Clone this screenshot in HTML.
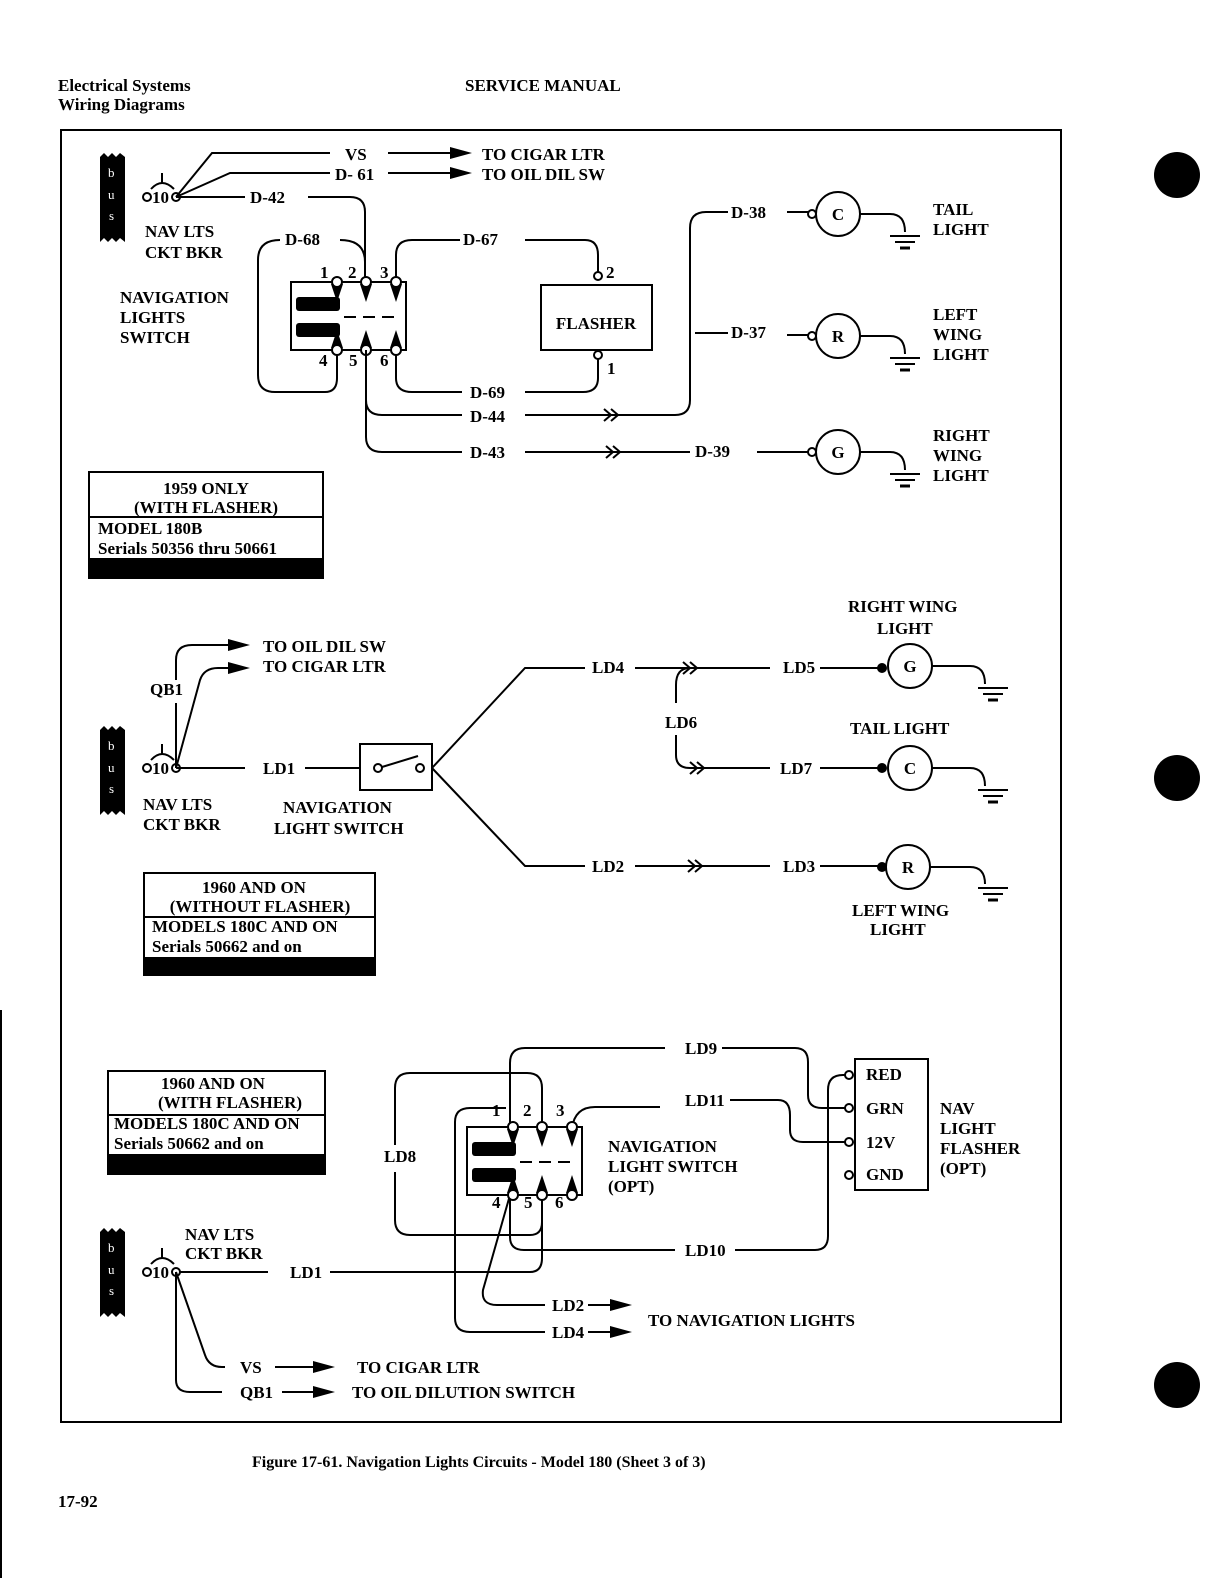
<!DOCTYPE html>
<html><head><meta charset="utf-8"><style>
html,body{margin:0;padding:0;background:#fff;}
svg{display:block;}
text{font-family:"Liberation Serif",serif;font-weight:bold;font-size:17px;fill:#000;}
.w{fill:none;stroke:#000;stroke-width:2;}
.t{fill:#fff;stroke:#000;stroke-width:2;}
</style></head><body>
<svg width="1224" height="1578" viewBox="0 0 1224 1578" xmlns="http://www.w3.org/2000/svg">
<defs>
<g id="bus">
<path d="M0,0 L4,-4 L8,0 L12,-4 L16,0 L20,-4 L25,0 L25,85 L20,81 L16,85 L12,81 L8,85 L4,81 L0,85 Z" fill="#000"/>
<text x="8" y="20" style="fill:#fff;font-size:13px;font-weight:normal">b</text>
<text x="8" y="42" style="fill:#fff;font-size:13px;font-weight:normal">u</text>
<text x="9" y="63" style="fill:#fff;font-size:13px;font-weight:normal">s</text>
</g>
<g id="cb">
<circle cx="0" cy="0" r="4" class="t"/>
<text x="5" y="6">10</text>
<path d="M4,-8 Q15,-20 27,-8" class="w"/>
<line x1="15" y1="-14" x2="15" y2="-24" class="w"/>
<circle cx="29" cy="0" r="4" class="t"/>
</g>
<g id="gnd">
<line x1="-15" y1="0" x2="15" y2="0" stroke="#000" stroke-width="2"/>
<line x1="-10" y1="6" x2="10" y2="6" stroke="#000" stroke-width="2"/>
<line x1="-5" y1="12" x2="5" y2="12" stroke="#000" stroke-width="3"/>
</g>
<g id="chev"><path d="M0,-6 L7,0 L0,6 M7,-6 L14,0 L7,6" class="w"/></g>
<g id="arr"><path d="M0,-6 L22,0 L0,6 Z" fill="#000"/></g>
<g id="sw">
<rect x="0" y="0" width="115" height="68" class="w" stroke-width="4"/>
<rect x="5" y="15" width="44" height="14" fill="#000" rx="3"/>
<rect x="5" y="41" width="44" height="14" fill="#000" rx="3"/>
<path d="M53,35 H110" class="w" stroke-dasharray="12,7"/>
<path d="M40,2 L52,2 L46,20 Z M69,2 L81,2 L75,20 Z M99,2 L111,2 L105,20 Z" fill="#000"/>
<path d="M40,66 L52,66 L46,48 Z M69,66 L81,66 L75,48 Z M99,66 L111,66 L105,48 Z" fill="#000"/>
<circle cx="46" cy="0" r="5" class="t"/><circle cx="75" cy="0" r="5" class="t"/><circle cx="105" cy="0" r="5" class="t"/>
<circle cx="46" cy="68" r="5" class="t"/><circle cx="75" cy="68" r="5" class="t"/><circle cx="105" cy="68" r="5" class="t"/>
</g>
</defs>

<text x="58" y="91">Electrical Systems</text>
<text x="58" y="110">Wiring Diagrams</text>
<text x="465" y="91">SERVICE MANUAL</text>
<rect x="61" y="130" width="1000" height="1292" class="w" stroke-width="3"/>
<circle cx="1177" cy="175" r="23" fill="#000"/>
<circle cx="1177" cy="778" r="23" fill="#000"/>
<circle cx="1177" cy="1385" r="23" fill="#000"/>
<line x1="1" y1="1010" x2="1" y2="1578" stroke="#000" stroke-width="2"/>

<!-- Section 1 -->
<use href="#bus" x="100" y="157"/>
<use href="#cb" x="147" y="197"/>
<path d="M176,197 L212,153 H330 M176,197 L230,173 H330 M176,197 H245 M308,197 H350 Q365,197 365,212 V282" class="w"/>
<text x="345" y="160">VS</text><text x="335" y="180">D- 61</text><text x="250" y="203">D-42</text>
<line x1="388" y1="153" x2="450" y2="153" class="w"/><use href="#arr" x="450" y="153"/>
<line x1="388" y1="173" x2="450" y2="173" class="w"/><use href="#arr" x="450" y="173"/>
<text x="482" y="160">TO CIGAR LTR</text><text x="482" y="180">TO OIL DIL SW</text>
<text x="145" y="237">NAV LTS</text><text x="145" y="258">CKT BKR</text>
<text x="120" y="303">NAVIGATION</text><text x="120" y="323">LIGHTS</text><text x="120" y="343">SWITCH</text>
<text x="285" y="245">D-68</text>
<path d="M340,240 Q365,240 365,262 M280,240 Q258,240 258,260 V375 Q258,392 275,392 H325 Q337,392 337,378 V350" class="w"/>
<path d="M396,282 V255 Q396,240 412,240 H460 M525,240 H585 Q598,240 598,255 V272" class="w"/>
<text x="463" y="245">D-67</text>
<circle cx="598" cy="276" r="4" class="t"/><text x="606" y="278">2</text>
<rect x="541" y="285" width="111" height="65" class="w" stroke-width="3"/>
<text x="596" y="329" text-anchor="middle">FLASHER</text>
<circle cx="598" cy="355" r="4" class="t"/><text x="607" y="374">1</text>
<path d="M598,359 V378 Q598,392 583,392 H525 M396,350 V378 Q396,392 412,392 H462" class="w"/>
<text x="470" y="398">D-69</text>
<use href="#sw" x="291" y="282"/>
<text x="320" y="278">1</text><text x="348" y="278">2</text><text x="380" y="278">3</text>
<text x="319" y="366">4</text><text x="349" y="366">5</text><text x="380" y="366">6</text>
<path d="M366,350 V400 Q366,415 382,415 H462 M525,415 H675 Q690,415 690,400 V228 Q690,212 706,212 H728" class="w"/>
<use href="#chev" x="604" y="415"/>
<text x="470" y="422">D-44</text><text x="731" y="218">D-38</text>
<path d="M366,400 V437 Q366,452 382,452 H462 M525,452 H690 M757,452 H816" class="w"/>
<use href="#chev" x="606" y="452"/>
<text x="470" y="458">D-43</text><text x="695" y="457">D-39</text>
<path d="M695,333 H728 M787,335 H816 M787,212 H816" class="w"/>
<text x="731" y="338">D-37</text>
<g>
<circle cx="812" cy="214" r="4" class="t"/><circle cx="838" cy="214" r="22" class="t"/><text x="838" y="220" text-anchor="middle">C</text>
<path d="M860,214 H890 Q905,214 905,232" class="w"/><use href="#gnd" x="905" y="236"/>
<circle cx="812" cy="336" r="4" class="t"/><circle cx="838" cy="336" r="22" class="t"/><text x="838" y="342" text-anchor="middle">R</text>
<path d="M860,336 H890 Q905,336 905,354" class="w"/><use href="#gnd" x="905" y="358"/>
<circle cx="812" cy="452" r="4" class="t"/><circle cx="838" cy="452" r="22" class="t"/><text x="838" y="458" text-anchor="middle">G</text>
<path d="M860,452 H890 Q905,452 905,470" class="w"/><use href="#gnd" x="905" y="474"/>
</g>
<text x="933" y="215">TAIL</text><text x="933" y="235">LIGHT</text>
<text x="933" y="320">LEFT</text><text x="933" y="340">WING</text><text x="933" y="360">LIGHT</text>
<text x="933" y="441">RIGHT</text><text x="933" y="461">WING</text><text x="933" y="481">LIGHT</text>
<rect x="89" y="472" width="234" height="106" class="w"/>
<line x1="89" y1="517" x2="323" y2="517" class="w"/>
<rect x="89" y="558" width="234" height="20" fill="#000"/>
<text x="206" y="494" text-anchor="middle">1959 ONLY</text><text x="206" y="513" text-anchor="middle">(WITH FLASHER)</text>
<text x="98" y="534">MODEL 180B</text><text x="98" y="554">Serials 50356 thru 50661</text>

<!-- Section 2 -->
<use href="#bus" x="100" y="730"/>
<use href="#cb" x="147" y="768"/>
<path d="M176,768 V703 M176,680 V660 Q176,645 192,645 H230 M176,768 L200,680 Q204,668 218,668 H230 M176,768 H245 M305,768 H360" class="w"/>
<use href="#arr" x="228" y="645"/><use href="#arr" x="228" y="668"/>
<text x="263" y="652">TO OIL DIL SW</text><text x="263" y="672">TO CIGAR LTR</text>
<text x="150" y="695">QB1</text><text x="263" y="774">LD1</text>
<rect x="360" y="744" width="72" height="46" class="w" stroke-width="3"/>
<circle cx="378" cy="768" r="4" class="t"/><circle cx="420" cy="768" r="4" class="t"/>
<line x1="382" y1="767" x2="418" y2="756" class="w"/>
<path d="M432,768 L525,668 H585 M635,668 H770 M820,668 H880 M432,768 L525,866 H585 M635,866 H770 M820,866 H880 M690,668 Q676,668 676,685 V703 M676,735 V755 Q676,768 690,768 H770 M820,768 H880" class="w"/>
<use href="#chev" x="683" y="668"/><use href="#chev" x="690" y="768"/><use href="#chev" x="688" y="866"/>
<text x="592" y="673">LD4</text><text x="783" y="673">LD5</text><text x="665" y="728">LD6</text>
<text x="780" y="774">LD7</text><text x="592" y="872">LD2</text><text x="783" y="872">LD3</text>
<circle cx="882" cy="668" r="5" fill="#000"/><circle cx="910" cy="666" r="22" class="t"/><text x="910" y="672" text-anchor="middle">G</text>
<path d="M932,666 H970 Q985,666 985,684" class="w"/><use href="#gnd" x="993" y="688"/>
<circle cx="882" cy="768" r="5" fill="#000"/><circle cx="910" cy="768" r="22" class="t"/><text x="910" y="774" text-anchor="middle">C</text>
<path d="M932,768 H970 Q985,768 985,786" class="w"/><use href="#gnd" x="993" y="790"/>
<circle cx="882" cy="867" r="5" fill="#000"/><circle cx="908" cy="867" r="22" class="t"/><text x="908" y="873" text-anchor="middle">R</text>
<path d="M930,867 H970 Q985,867 985,884" class="w"/><use href="#gnd" x="993" y="888"/>
<text x="848" y="612">RIGHT WING</text><text x="877" y="634">LIGHT</text>
<text x="850" y="734">TAIL LIGHT</text>
<text x="852" y="916">LEFT WING</text><text x="870" y="935">LIGHT</text>
<text x="143" y="810">NAV LTS</text><text x="143" y="830">CKT BKR</text>
<text x="283" y="813">NAVIGATION</text><text x="274" y="834">LIGHT SWITCH</text>
<rect x="144" y="873" width="231" height="102" class="w"/>
<line x1="144" y1="917" x2="375" y2="917" class="w"/>
<rect x="144" y="957" width="231" height="18" fill="#000"/>
<text x="254" y="893" text-anchor="middle">1960 AND ON</text><text x="260" y="912" text-anchor="middle">(WITHOUT FLASHER)</text>
<text x="152" y="932">MODELS 180C AND ON</text><text x="152" y="952">Serials 50662 and on</text>

<!-- Section 3 -->
<rect x="108" y="1071" width="217" height="103" class="w"/>
<line x1="108" y1="1115" x2="325" y2="1115" class="w"/>
<rect x="108" y="1154" width="217" height="20" fill="#000"/>
<text x="213" y="1089" text-anchor="middle">1960 AND ON</text><text x="230" y="1108" text-anchor="middle">(WITH FLASHER)</text>
<text x="114" y="1129">MODELS 180C AND ON</text><text x="114" y="1149">Serials 50662 and on</text>
<path d="M510,1128 V1063 Q510,1048 525,1048 H665 M722,1048 H795 Q808,1048 808,1062 V1095 Q808,1108 822,1108 H845" class="w"/>
<path d="M542,1128 V1088 Q542,1073 527,1073 H410 Q395,1073 395,1088 V1145 M395,1172 V1220 Q395,1235 410,1235 H530 Q542,1235 542,1222 V1195" class="w"/>
<path d="M572,1128 Q575,1107 595,1107 H660 M730,1100 H778 Q790,1100 790,1115 V1130 Q790,1142 803,1142 H845" class="w"/>
<path d="M510,1195 V1237 Q510,1250 524,1250 H675 M735,1250 H815 Q828,1250 828,1236 V1090 Q828,1075 843,1075 H845" class="w"/>
<path d="M176,1272 H268 M330,1272 H530 Q542,1272 542,1258 V1195" class="w"/>
<path d="M510,1195 L483,1290 Q481,1305 497,1305 H545" class="w"/>
<path d="M506,1108 H470 Q455,1108 455,1122 V1318 Q455,1332 470,1332 H545" class="w"/>
<line x1="588" y1="1305" x2="610" y2="1305" class="w"/><use href="#arr" x="610" y="1305"/>
<line x1="588" y1="1332" x2="610" y2="1332" class="w"/><use href="#arr" x="610" y="1332"/>
<text x="552" y="1311">LD2</text><text x="552" y="1338">LD4</text>
<text x="648" y="1326">TO NAVIGATION LIGHTS</text>
<use href="#sw" x="467" y="1127"/>
<text x="492" y="1116">1</text><text x="523" y="1116">2</text><text x="556" y="1116">3</text>
<text x="492" y="1208">4</text><text x="524" y="1208">5</text><text x="555" y="1208">6</text>
<text x="384" y="1162">LD8</text><text x="685" y="1054">LD9</text><text x="685" y="1106">LD11</text><text x="685" y="1256">LD10</text>
<text x="290" y="1278">LD1</text>
<text x="608" y="1152">NAVIGATION</text><text x="608" y="1172">LIGHT SWITCH</text><text x="608" y="1192">(OPT)</text>
<rect x="855" y="1059" width="73" height="131" class="w" stroke-width="3"/>
<circle cx="849" cy="1075" r="4" class="t"/><circle cx="849" cy="1108" r="4" class="t"/><circle cx="849" cy="1142" r="4" class="t"/><circle cx="849" cy="1175" r="4" class="t"/>
<text x="866" y="1080">RED</text><text x="866" y="1114">GRN</text><text x="866" y="1148">12V</text><text x="866" y="1180">GND</text>
<text x="940" y="1114">NAV</text><text x="940" y="1134">LIGHT</text><text x="940" y="1154">FLASHER</text><text x="940" y="1174">(OPT)</text>
<use href="#bus" x="100" y="1232"/>
<use href="#cb" x="147" y="1272"/>
<text x="185" y="1240">NAV LTS</text><text x="185" y="1259">CKT BKR</text>
<path d="M176,1272 L205,1355 Q209,1367 222,1367 H225 M176,1272 V1380 Q176,1392 190,1392 H222" class="w"/>
<text x="240" y="1373">VS</text><text x="240" y="1398">QB1</text>
<line x1="275" y1="1367" x2="315" y2="1367" class="w"/><use href="#arr" x="313" y="1367"/>
<line x1="282" y1="1392" x2="315" y2="1392" class="w"/><use href="#arr" x="313" y="1392"/>
<text x="357" y="1373">TO CIGAR LTR</text><text x="352" y="1398">TO OIL DILUTION SWITCH</text>

<text x="252" y="1467" style="font-weight:bold;font-size:16px">Figure 17-61.  Navigation Lights Circuits - Model 180 (Sheet 3 of 3)</text>
<text x="58" y="1507">17-92</text>
</svg>
</body></html>
